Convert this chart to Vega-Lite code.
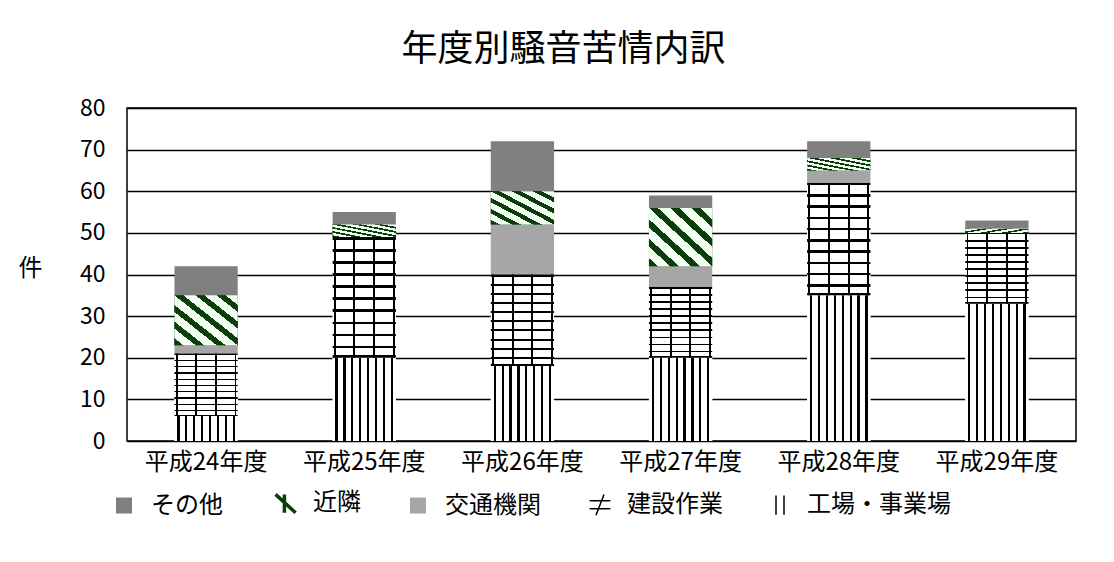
{
  "$schema": "https://vega.github.io/schema/vega-lite/v6.json",
  "autosize": "none",
  "width": 949,
  "height": 333,
  "padding": {"left": 127, "top": 108, "right": 38, "bottom": 121},
  "background": "white",
  "config": {
    "font": "Noto Sans CJK JP",
    "view": {"stroke": "#000", "strokeWidth": 1.5},
    "axis": {"labelColor": "#000", "titleColor": "#000"}
  },
  "title": {
    "text": "年度別騒音苦情内訳",
    "fontSize": 36,
    "fontWeight": "normal",
    "color": "#000",
    "anchor": "middle",
    "dx": -38,
    "offset": 28
  },
  "data": {
    "values": [
      {"year": "平成24年度", "type": "工場・事業場", "count": 6},
      {"year": "平成24年度", "type": "建設作業", "count": 15},
      {"year": "平成24年度", "type": "交通機関", "count": 2},
      {"year": "平成24年度", "type": "近隣", "count": 12},
      {"year": "平成24年度", "type": "その他", "count": 7},
      {"year": "平成25年度", "type": "工場・事業場", "count": 20},
      {"year": "平成25年度", "type": "建設作業", "count": 29},
      {"year": "平成25年度", "type": "交通機関", "count": 0},
      {"year": "平成25年度", "type": "近隣", "count": 3},
      {"year": "平成25年度", "type": "その他", "count": 3},
      {"year": "平成26年度", "type": "工場・事業場", "count": 18},
      {"year": "平成26年度", "type": "建設作業", "count": 22},
      {"year": "平成26年度", "type": "交通機関", "count": 12},
      {"year": "平成26年度", "type": "近隣", "count": 8},
      {"year": "平成26年度", "type": "その他", "count": 12},
      {"year": "平成27年度", "type": "工場・事業場", "count": 20},
      {"year": "平成27年度", "type": "建設作業", "count": 17},
      {"year": "平成27年度", "type": "交通機関", "count": 5},
      {"year": "平成27年度", "type": "近隣", "count": 14},
      {"year": "平成27年度", "type": "その他", "count": 3},
      {"year": "平成28年度", "type": "工場・事業場", "count": 35},
      {"year": "平成28年度", "type": "建設作業", "count": 27},
      {"year": "平成28年度", "type": "交通機関", "count": 3},
      {"year": "平成28年度", "type": "近隣", "count": 3},
      {"year": "平成28年度", "type": "その他", "count": 4},
      {"year": "平成29年度", "type": "工場・事業場", "count": 33},
      {"year": "平成29年度", "type": "建設作業", "count": 17},
      {"year": "平成29年度", "type": "交通機関", "count": 0},
      {"year": "平成29年度", "type": "近隣", "count": 1},
      {"year": "平成29年度", "type": "その他", "count": 2}
    ]
  },
  "transform": [
    {"calculate": "indexof(['工場・事業場','建設作業','交通機関','近隣','その他'], datum.type)", "as": "rank"},
    {"stack": "count", "groupby": ["year"], "sort": [{"field": "rank", "order": "ascending"}], "as": ["y0", "y1"]}
  ],
  "encoding": {
    "x": {
      "field": "year",
      "type": "nominal",
      "sort": null,
      "scale": {"paddingInner": 0.6, "paddingOuter": 0.3},
      "axis": {
        "title": null,
        "labelAngle": 0,
        "labelFontSize": 24,
        "labelPadding": 9,
        "ticks": false,
        "domain": false,
        "grid": false
      }
    },
    "y": {
      "field": "y1",
      "type": "quantitative",
      "scale": {"domain": [0, 80], "nice": false},
      "axis": {
        "title": "件",
        "titleAngle": 0,
        "titleFontSize": 24,
        "titleFontWeight": "normal",
        "titleAlign": "center",
        "titleBaseline": "middle",
        "titleX": -97,
        "titleY": 160,
        "values": [0, 10, 20, 30, 40, 50, 60, 70, 80],
        "labelFontSize": 23,
        "labelPadding": 22,
        "ticks": false,
        "domain": false,
        "grid": true,
        "gridColor": "#000",
        "gridWidth": 1.5,
        "gridOpacity": 1
      }
    },
    "y2": {"field": "y0"}
  },
  "layer": [
    {
      "mark": {"type": "bar"},
      "encoding": {
        "color": {
          "field": "type",
          "type": "nominal",
          "scale": {
            "domain": ["その他", "近隣", "交通機関", "建設作業", "工場・事業場"],
            "range": ["#808080", "#0b3d0b", "#a6a6a6", "#ffffff", "#ffffff"]
          },
          "legend": {
            "title": null,
            "orient": "none",
            "direction": "horizontal",
            "legendX": -15,
            "legendY": 383,
            "padding": 0,
            "labelFontSize": 24,
            "labelColor": "#000",
            "labelOffset": 15,
            "columnPadding": 45,
            "symbolSize": 256,
            "symbolType": "square",
            "symbolOpacity": 1,
            "encode": {
              "symbols": {
                "update": {
                  "shape": {"signal": "datum.value === '近隣' ? 'M-1.3,-1.1L1.2,1.2M-0.2,-1.1L-0.2,1.2' : datum.value === '建設作業' ? 'M-1.3,-0.5H1.3M-1.3,0.5H1.3M0.5,-1.3L-0.5,1.3' : datum.value === '工場・事業場' ? 'M-0.5,-1.2V1.2M0.5,-1.2V1.2' : 'square'"},
                  "fill": {"signal": "datum.value === 'その他' ? '#808080' : datum.value === '交通機関' ? '#a6a6a6' : 'transparent'"},
                  "stroke": {"signal": "datum.value === '近隣' ? '#0b3d0b' : (datum.value === '建設作業' || datum.value === '工場・事業場') ? '#000' : 'transparent'"},
                  "strokeWidth": {"signal": "datum.value === '近隣' ? 3.5 : 1.5"},
                  "opacity": {"value": 1}
                }
              }
            }
          }
        }
      }
    },
    {
      "transform": [{"filter": "datum.type === '工場・事業場'"}],
      "mark": {
        "type": "bar",
        "color": {
          "gradient": "linear", "x1": 0, "y1": 0, "x2": 1, "y2": 0,
          "stops": [
            {"offset": 0, "color": "#fff"}, {"offset": 0.045, "color": "#fff"},
            {"offset": 0.045, "color": "#000"}, {"offset": 0.08, "color": "#000"},
            {"offset": 0.08, "color": "#fff"}, {"offset": 0.17, "color": "#fff"},
            {"offset": 0.17, "color": "#000"}, {"offset": 0.205, "color": "#000"},
            {"offset": 0.205, "color": "#fff"}, {"offset": 0.295, "color": "#fff"},
            {"offset": 0.295, "color": "#000"}, {"offset": 0.33, "color": "#000"},
            {"offset": 0.33, "color": "#fff"}, {"offset": 0.42, "color": "#fff"},
            {"offset": 0.42, "color": "#000"}, {"offset": 0.455, "color": "#000"},
            {"offset": 0.455, "color": "#fff"}, {"offset": 0.545, "color": "#fff"},
            {"offset": 0.545, "color": "#000"}, {"offset": 0.58, "color": "#000"},
            {"offset": 0.58, "color": "#fff"}, {"offset": 0.67, "color": "#fff"},
            {"offset": 0.67, "color": "#000"}, {"offset": 0.705, "color": "#000"},
            {"offset": 0.705, "color": "#fff"}, {"offset": 0.795, "color": "#fff"},
            {"offset": 0.795, "color": "#000"}, {"offset": 0.83, "color": "#000"},
            {"offset": 0.83, "color": "#fff"}, {"offset": 0.92, "color": "#fff"},
            {"offset": 0.92, "color": "#000"}, {"offset": 0.955, "color": "#000"},
            {"offset": 0.955, "color": "#fff"}, {"offset": 1, "color": "#fff"}
          ]
        }
      }
    },
    {
      "transform": [{"filter": "datum.type === '建設作業'"}],
      "mark": {
        "type": "bar",
        "color": {
          "gradient": "linear", "x1": 0, "y1": 0, "x2": 0, "y2": 1,
          "stops": [
            {"offset": 0, "color": "#000"}, {"offset": 0.022, "color": "#000"},
            {"offset": 0.022, "color": "#fff"}, {"offset": 0.1, "color": "#fff"},
            {"offset": 0.1, "color": "#000"}, {"offset": 0.122, "color": "#000"},
            {"offset": 0.122, "color": "#fff"}, {"offset": 0.2, "color": "#fff"},
            {"offset": 0.2, "color": "#000"}, {"offset": 0.222, "color": "#000"},
            {"offset": 0.222, "color": "#fff"}, {"offset": 0.3, "color": "#fff"},
            {"offset": 0.3, "color": "#000"}, {"offset": 0.322, "color": "#000"},
            {"offset": 0.322, "color": "#fff"}, {"offset": 0.4, "color": "#fff"},
            {"offset": 0.4, "color": "#000"}, {"offset": 0.422, "color": "#000"},
            {"offset": 0.422, "color": "#fff"}, {"offset": 0.5, "color": "#fff"},
            {"offset": 0.5, "color": "#000"}, {"offset": 0.522, "color": "#000"},
            {"offset": 0.522, "color": "#fff"}, {"offset": 0.6, "color": "#fff"},
            {"offset": 0.6, "color": "#000"}, {"offset": 0.622, "color": "#000"},
            {"offset": 0.622, "color": "#fff"}, {"offset": 0.7, "color": "#fff"},
            {"offset": 0.7, "color": "#000"}, {"offset": 0.722, "color": "#000"},
            {"offset": 0.722, "color": "#fff"}, {"offset": 0.8, "color": "#fff"},
            {"offset": 0.8, "color": "#000"}, {"offset": 0.822, "color": "#000"},
            {"offset": 0.822, "color": "#fff"}, {"offset": 0.9, "color": "#fff"},
            {"offset": 0.9, "color": "#000"}, {"offset": 0.922, "color": "#000"},
            {"offset": 0.922, "color": "#fff"}, {"offset": 0.978, "color": "#fff"},
            {"offset": 0.978, "color": "#000"}, {"offset": 1, "color": "#000"}
          ]
        }
      }
    },
    {
      "transform": [{"filter": "datum.type === '建設作業'"}],
      "mark": {
        "type": "bar",
        "color": {
          "gradient": "linear", "x1": 0, "y1": 0, "x2": 1, "y2": 0,
          "stops": [
            {"offset": 0, "color": "rgba(0,0,0,0)"}, {"offset": 0.02, "color": "rgba(0,0,0,0)"},
            {"offset": 0.02, "color": "#000"}, {"offset": 0.05, "color": "#000"},
            {"offset": 0.05, "color": "rgba(0,0,0,0)"}, {"offset": 0.33, "color": "rgba(0,0,0,0)"},
            {"offset": 0.33, "color": "#000"}, {"offset": 0.36, "color": "#000"},
            {"offset": 0.36, "color": "rgba(0,0,0,0)"}, {"offset": 0.64, "color": "rgba(0,0,0,0)"},
            {"offset": 0.64, "color": "#000"}, {"offset": 0.67, "color": "#000"},
            {"offset": 0.67, "color": "rgba(0,0,0,0)"}, {"offset": 0.95, "color": "rgba(0,0,0,0)"},
            {"offset": 0.95, "color": "#000"}, {"offset": 0.98, "color": "#000"},
            {"offset": 0.98, "color": "rgba(0,0,0,0)"}, {"offset": 1, "color": "rgba(0,0,0,0)"}
          ]
        }
      }
    },
    {
      "transform": [{"filter": "datum.type === '近隣'"}],
      "mark": {
        "type": "bar",
        "color": {
          "gradient": "linear", "x1": 0, "y1": 1, "x2": 1, "y2": 0,
          "stops": [
            {"offset": 0, "color": "#0b3d0b"}, {"offset": 0.07, "color": "#0b3d0b"},
            {"offset": 0.07, "color": "#f4fff4"}, {"offset": 0.1667, "color": "#f4fff4"},
            {"offset": 0.1667, "color": "#0b3d0b"}, {"offset": 0.2367, "color": "#0b3d0b"},
            {"offset": 0.2367, "color": "#f4fff4"}, {"offset": 0.3333, "color": "#f4fff4"},
            {"offset": 0.3333, "color": "#0b3d0b"}, {"offset": 0.4033, "color": "#0b3d0b"},
            {"offset": 0.4033, "color": "#f4fff4"}, {"offset": 0.5, "color": "#f4fff4"},
            {"offset": 0.5, "color": "#0b3d0b"}, {"offset": 0.57, "color": "#0b3d0b"},
            {"offset": 0.57, "color": "#f4fff4"}, {"offset": 0.6667, "color": "#f4fff4"},
            {"offset": 0.6667, "color": "#0b3d0b"}, {"offset": 0.7367, "color": "#0b3d0b"},
            {"offset": 0.7367, "color": "#f4fff4"}, {"offset": 0.8333, "color": "#f4fff4"},
            {"offset": 0.8333, "color": "#0b3d0b"}, {"offset": 0.9033, "color": "#0b3d0b"},
            {"offset": 0.9033, "color": "#f4fff4"}, {"offset": 1, "color": "#f4fff4"}
          ]
        }
      }
    }
  ]
}
